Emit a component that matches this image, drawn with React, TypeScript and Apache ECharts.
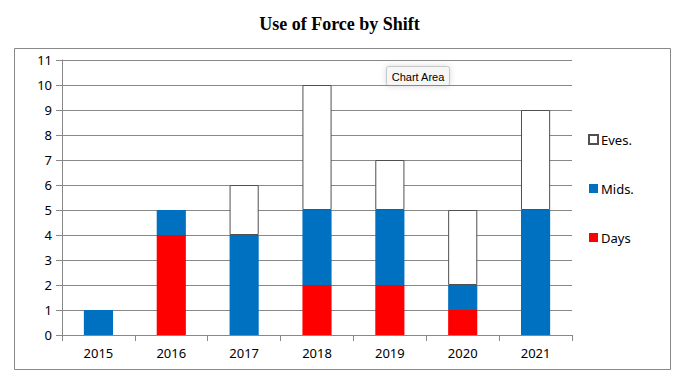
import React, { useEffect, useRef } from "react";
import * as echarts from "echarts";

const years = ["2015", "2016", "2017", "2018", "2019", "2020", "2021"];
const days = [0, 4, 0, 2, 2, 1, 0];
const mids = [1, 1, 4, 3, 3, 1, 5];
const eves = [0, 0, 2, 5, 2, 3, 4];

const nz = (arr: number[]) => arr.map((v) => (v === 0 ? "-" : v));

export default function App() {
  const ref = useRef<HTMLDivElement>(null);
  useEffect(() => {
    if (!ref.current) return;
    const chart = echarts.init(ref.current, null, { renderer: "svg" });
    const labelFont = "'Noto Sans', 'Open Sans', sans-serif";
    chart.setOption({
      animation: false,
      backgroundColor: "#ffffff",
      title: {
        text: "Use of Force by Shift",
        left: "center",
        top: 10,
        textStyle: {
          fontFamily: "'Liberation Serif', serif",
          fontWeight: "bold",
          fontSize: 18,
          color: "#000",
        },
      },
      grid: { left: 62, right: 107, top: 60, bottom: 47 },
      xAxis: {
        type: "category",
        data: years,
        axisLine: { lineStyle: { color: "#888", width: 1 } },
        axisTick: { show: true, length: 6, lineStyle: { color: "#888" } },
        axisLabel: { color: "#000", fontSize: 13, fontFamily: labelFont, margin: 11 },
      },
      yAxis: {
        type: "value",
        min: 0,
        max: 11,
        interval: 1,
        axisLine: { show: true, lineStyle: { color: "#888", width: 1 } },
        axisTick: { show: true, length: 6, lineStyle: { color: "#888" } },
        axisLabel: { color: "#000", fontSize: 13, fontFamily: labelFont, margin: 10 },
        splitLine: { lineStyle: { color: "#888", width: 1 } },
      },
      legend: {
        orient: "vertical",
        left: 583,
        top: 128,
        itemWidth: 9,
        itemHeight: 9,
        itemGap: 36,
        icon: "rect",
        data: ["Eves.", "Mids.", "Days"],
        textStyle: { color: "#000", fontSize: 13, fontFamily: labelFont, padding: [0, 0, 0, -2] },
      },
      series: [
        {
          name: "Days",
          type: "bar",
          stack: "s",
          data: nz(days),
          barWidth: "40%",
          itemStyle: { color: "#ff0000" },
        },
        {
          name: "Mids.",
          type: "bar",
          stack: "s",
          data: nz(mids),
          barWidth: "40%",
          itemStyle: { color: "#0070c0" },
        },
        {
          name: "Eves.",
          type: "bar",
          stack: "s",
          data: nz(eves),
          barWidth: "40%",
          itemStyle: { color: "#ffffff", borderColor: "#505050", borderWidth: 1 },
        },
      ],
      graphic: [
        {
          type: "rect",
          left: 12,
          top: 46,
          shape: { width: 656, height: 321 },
          style: { fill: "none", stroke: "#888", lineWidth: 1 },
          silent: true,
        },
        {
          type: "group",
          left: 386,
          top: 66,
          children: [
            {
              type: "rect",
              shape: { x: 0, y: 0, width: 63, height: 19, r: 2 },
              style: {
                fill: "#f6f6f6",
                stroke: "#c8c8c8",
                lineWidth: 1,
                shadowBlur: 6,
                shadowColor: "rgba(0,0,0,0.15)",
              },
            },
            {
              type: "text",
              x: 31.5,
              y: 10,
              style: {
                text: "Chart Area",
                fill: "#000",
                fontSize: 11,
                fontFamily: "'Liberation Sans', Arial, sans-serif",
                align: "center",
                verticalAlign: "middle",
              },
            },
          ],
        },
      ],
    });
    return () => chart.dispose();
  }, []);
  return (
    <div
      ref={ref}
      style={{ position: "absolute", left: 0, top: 0, width: 679, height: 382 }}
    />
  );
}
